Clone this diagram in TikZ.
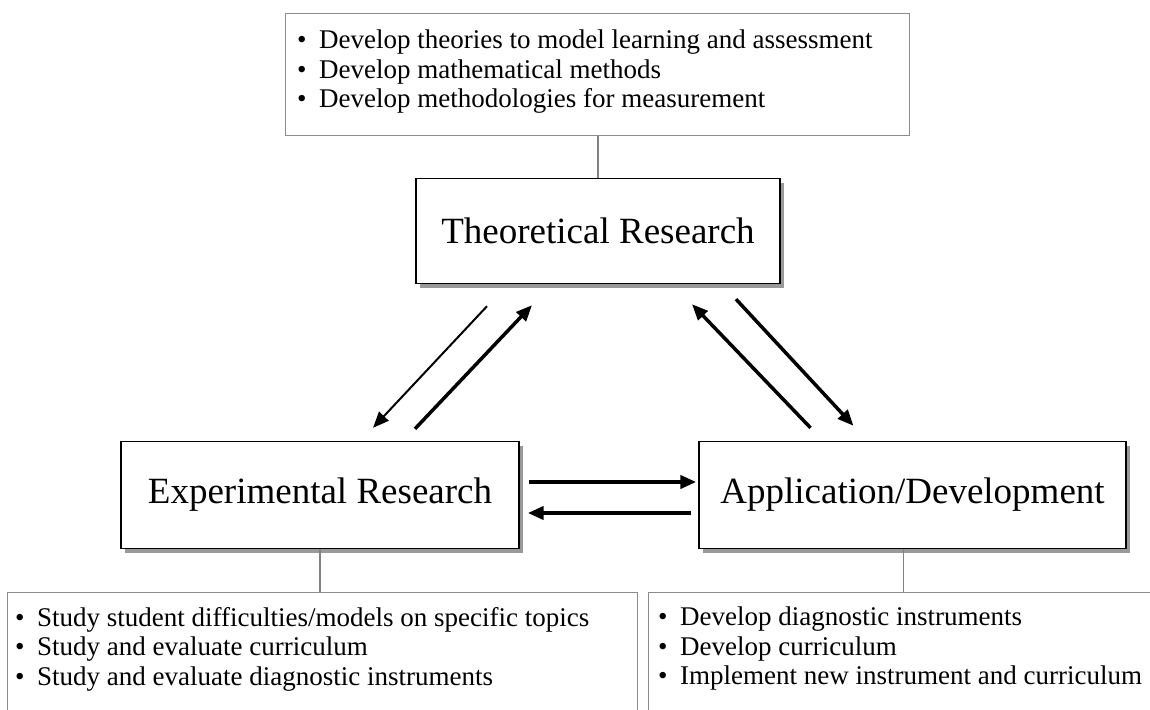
\documentclass[tikz,border=0pt]{standalone}
\usepackage{fontspec}
\setmainfont{Liberation Serif}
\usetikzlibrary{arrows.meta}
\usetikzlibrary{calc}
\usetikzlibrary{shadows}

\tikzset{
    titlebox/.style={draw, line width=1.4pt, fill=white, inner sep=0pt,
        font=\fontsize{37}{40}\selectfont,
        drop shadow={shadow xshift=4pt, shadow yshift=-4pt, fill=black!40, opacity=1}},
    framebox/.style={draw=black!45, line width=1.4pt, inner sep=0pt, anchor=north west},
    listtext/.style={font=\fontsize{27}{29.5}\selectfont, align=left, anchor=north west, inner sep=0pt},
    link/.style={draw=black!50, line width=1.2pt},
    flow/.style={-{Triangle[length=16pt,width=13pt]}, line width=3.5pt},
}

\begin{document}
\begin{tikzpicture}[x=1pt,y=-1pt]
        \newcommand{\figtriadbullet}{\makebox[22pt][l]{\textbullet}}
        \newcommand{\figtriadtheox}{598}
        \newcommand{\figtriadtheoy}{231}
        \newcommand{\figtriadtheowidth}{364}
        \newcommand{\figtriadtheoheight}{105}
        \newcommand{\figtriadrowy}{495}
        \newcommand{\figtriadrowheight}{107}
        \newcommand{\figtriadexpx}{320}
        \newcommand{\figtriadexpwidth}{398}
        \newcommand{\figtriadappx}{912.5}
        \newcommand{\figtriadappwidth}{427}
        \newcommand{\figtriadlisty}{592}
        \newcommand{\figtriadlistheight}{130}
        \useasboundingbox (0,0) rectangle (1150,709);
        \clip (0,0) rectangle (1150,709);
        % list boxes
        \node[framebox, minimum width=624pt, minimum height=122pt] (topframe) at (285,13) {};
        \node[listtext] (toptext) at ($(topframe.north west)+(12,17)$)
            {\figtriadbullet Develop theories to model learning and assessment\\
             \figtriadbullet Develop mathematical methods\\
             \figtriadbullet Develop methodologies for measurement};
        \node[framebox, minimum width=630pt, minimum height=\figtriadlistheight pt] (expframe) at (7,\figtriadlisty) {};
        \node[listtext] (exptext) at ($(expframe.north west)+(8,15)$)
            {\figtriadbullet Study student difficulties/models on specific topics\\
             \figtriadbullet Study and evaluate curriculum\\
             \figtriadbullet Study and evaluate diagnostic instruments};
        \node[framebox, minimum width=520pt, minimum height=\figtriadlistheight pt] (appframe) at (648,\figtriadlisty) {};
        \node[listtext] (apptext) at ($(appframe.north west)+(10,15)$)
            {\figtriadbullet Develop diagnostic instruments\\
             \figtriadbullet Develop curriculum\\
             \figtriadbullet Implement new instrument and curriculum};
        % research boxes
        \node[titlebox, minimum width=\figtriadtheowidth pt, minimum height=\figtriadtheoheight pt] (theo) at (\figtriadtheox,\figtriadtheoy) {Theoretical Research};
        \node[titlebox, minimum width=\figtriadexpwidth pt, minimum height=\figtriadrowheight pt] (exp) at (\figtriadexpx,\figtriadrowy) {Experimental Research};
        \node[titlebox, minimum width=\figtriadappwidth pt, minimum height=\figtriadrowheight pt] (app) at (\figtriadappx,\figtriadrowy) {Application/Development};
        % links to the lists
        \draw[link] (theo.north) -- (theo.north |- topframe.south);
        \draw[link] (exp.south) -- (exp.south |- expframe.north);
        \draw[link] ([xshift=-9pt]app.south) -- ([xshift=-9pt]app.south |- appframe.north);
        % flows between the boxes
        \draw[flow, line width=2pt] ($(theo.south)+(-111,22)$) -- ($(exp.north)+(53,-13)$);
        \draw[flow] ($(exp.north)+(95,-12)$) -- ($(theo.south)+(-66,21)$);
        \draw[flow] ($(app.north)+(-102,-13)$) -- ($(theo.south)+(94,20)$);
        \draw[flow] ($(theo.south)+(138,15)$) -- ($(app.north)+(-59,-15)$);
        \draw[flow, line width=4.5pt] ($(exp.east)+(9,-13)$) -- ($(app.west)+(-2,-13)$);
        \draw[flow, line width=4.5pt] ($(app.west)+(-7,18)$) -- ($(exp.east)+(8,18)$);
    \end{tikzpicture}
\end{document}
